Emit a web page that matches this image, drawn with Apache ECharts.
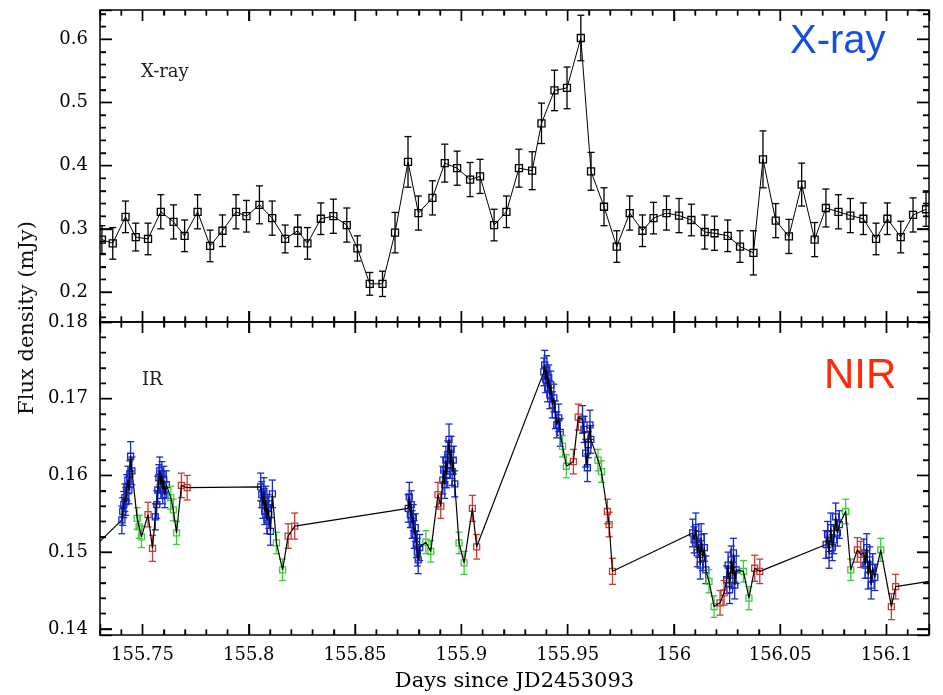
<!DOCTYPE html>
<html>
<head>
<meta charset="utf-8">
<script src="https://cdn.jsdelivr.net/npm/echarts@6/dist/echarts.min.js"></script>
<style>
    html, body { margin: 0; padding: 0; background: #fff; }
    #main { width: 943px; height: 695px; }
</style>
</head>
<body>
<div id="main"></div>
<script>
// X-ray light curve (days since JD2453093, mJy, 1-sigma)
var xrayDays = [155.7309, 155.7360, 155.7420, 155.7468, 155.7526, 155.7586, 155.7646, 155.7698, 155.7759, 155.7818,
    155.7876, 155.7940, 155.7989, 155.8050, 155.8110, 155.8171, 155.8230, 155.8276, 155.8339, 155.8398,
    155.8461, 155.8511, 155.8569, 155.8629, 155.8688, 155.8749, 155.8798, 155.8864, 155.8922, 155.8980,
    155.9041, 155.9088, 155.9154, 155.9212, 155.9271, 155.9333, 155.9377, 155.9438, 155.9497, 155.9562,
    155.9610, 155.9671, 155.9731, 155.9792, 155.9852, 155.9904, 155.9965, 156.0024, 156.0082, 156.0145,
    156.0191, 156.0253, 156.0311, 156.0374, 156.0419, 156.0479, 156.0541, 156.0601, 156.0662, 156.0715,
    156.0774, 156.0830, 156.0891, 156.0951, 156.1004, 156.1067, 156.1125, 156.1186];
var xrayFlux = [0.283, 0.277, 0.319, 0.287, 0.284, 0.327, 0.311, 0.289, 0.327, 0.273,
    0.297, 0.327, 0.320, 0.338, 0.317, 0.284, 0.297, 0.277, 0.316, 0.320,
    0.306, 0.269, 0.213, 0.213, 0.294, 0.406, 0.325, 0.349, 0.404, 0.396,
    0.378, 0.383, 0.306, 0.327, 0.396, 0.392, 0.467, 0.519, 0.523, 0.602,
    0.391, 0.335, 0.272, 0.325, 0.297, 0.317, 0.325, 0.321, 0.314, 0.295,
    0.293, 0.289, 0.272, 0.262, 0.410, 0.313, 0.288, 0.370, 0.283, 0.333,
    0.327, 0.321, 0.316, 0.284, 0.316, 0.287, 0.322, 0.331];
var xrayErr = [0.022, 0.025, 0.025, 0.022, 0.025, 0.027, 0.027, 0.025, 0.027, 0.025,
    0.025, 0.027, 0.025, 0.030, 0.027, 0.022, 0.025, 0.025, 0.025, 0.027,
    0.027, 0.020, 0.018, 0.020, 0.032, 0.040, 0.027, 0.027, 0.030, 0.027,
    0.027, 0.027, 0.025, 0.025, 0.030, 0.030, 0.032, 0.032, 0.033, 0.036,
    0.030, 0.030, 0.025, 0.027, 0.025, 0.025, 0.027, 0.027, 0.025, 0.027,
    0.027, 0.025, 0.025, 0.035, 0.045, 0.027, 0.027, 0.034, 0.027, 0.030,
    0.027, 0.027, 0.025, 0.025, 0.025, 0.025, 0.027, 0.027];

// NIR, blue points
var blueDays = [155.7403, 155.7407, 155.7412, 155.7417, 155.7421, 155.7426, 155.7431, 155.7436, 155.7440, 155.7444, 155.7450,
    155.7560, 155.7567, 155.7572, 155.7577, 155.7581, 155.7586, 155.7591, 155.7595, 155.7600, 155.7605, 155.7612,
    155.8056, 155.8061, 155.8066, 155.8071, 155.8075, 155.8080, 155.8085, 155.8089, 155.8094, 155.8102, 155.8111,
    155.8750, 155.8755, 155.8760, 155.8764, 155.8769, 155.8774, 155.8778, 155.8783, 155.8788, 155.8793, 155.8797, 155.8804,
    155.8913, 155.8917, 155.8922, 155.8927, 155.8931, 155.8936, 155.8942, 155.8948, 155.8952, 155.8957, 155.8962, 155.8969,
    155.9388, 155.9392, 155.9397, 155.9402, 155.9406, 155.9411, 155.9416, 155.9421, 155.9428, 155.9435, 155.9442, 155.9449, 155.9458, 155.9465,
    155.9570, 155.9577, 155.9585, 155.9593, 155.9597, 155.9605, 155.9609,
    156.0088, 156.0095, 156.0103, 156.0110, 156.0117, 156.0124, 156.0128, 156.0135, 156.0143, 156.0150,
    156.0248, 156.0255, 156.0262, 156.0270, 156.0277, 156.0280, 156.0286, 156.0293,
    156.0716, 156.0723, 156.0730, 156.0738, 156.0745, 156.0752, 156.0761, 156.0769, 156.0778,
    156.0893, 156.0900, 156.0907, 156.0914, 156.0921, 156.0928, 156.0935, 156.0945];
var blueFlux = [0.1542, 0.1553, 0.1562, 0.1571, 0.1566, 0.1584, 0.1594, 0.1581, 0.1602, 0.1625, 0.1606,
    0.1546, 0.1562, 0.1581, 0.1597, 0.1606, 0.1588, 0.1601, 0.1581, 0.1594, 0.1575, 0.1588,
    0.1585, 0.1575, 0.1562, 0.1579, 0.1553, 0.1568, 0.1542, 0.1558, 0.1549, 0.1527, 0.1576,
    0.1557, 0.1572, 0.1549, 0.1562, 0.1536, 0.1545, 0.1523, 0.1532, 0.1510, 0.1500, 0.1490, 0.1506,
    0.1594, 0.1607, 0.1588, 0.1620, 0.1601, 0.1627, 0.1647, 0.1614, 0.1634, 0.1605, 0.1620, 0.1589,
    0.1735, 0.1744, 0.1725, 0.1738, 0.1714, 0.1727, 0.1705, 0.1718, 0.1692, 0.1701, 0.1679, 0.1666, 0.1675, 0.1656,
    0.1673, 0.1660, 0.1629, 0.1610, 0.1640, 0.1666, 0.1647,
    0.1525, 0.1516, 0.1532, 0.1499, 0.1510, 0.1483, 0.1519, 0.1493, 0.1506, 0.1477,
    0.1464, 0.1483, 0.1451, 0.1490, 0.1470, 0.1499, 0.1457, 0.1477,
    0.1510, 0.1523, 0.1497, 0.1532, 0.1506, 0.1516, 0.1546, 0.1525, 0.1536,
    0.1499, 0.1483, 0.1506, 0.1470, 0.1490, 0.1457, 0.1480, 0.1467];
var blueErr = [0.0018, 0.0018, 0.0017, 0.0018, 0.0018, 0.0017, 0.0018, 0.0018, 0.0017, 0.0019, 0.0018,
    0.0017, 0.0018, 0.0018, 0.0017, 0.0018, 0.0018, 0.0017, 0.0018, 0.0018, 0.0017, 0.0018,
    0.0018, 0.0017, 0.0018, 0.0018, 0.0017, 0.0018, 0.0018, 0.0017, 0.0018, 0.0018, 0.0018,
    0.0018, 0.0019, 0.0017, 0.0018, 0.0018, 0.0017, 0.0018, 0.0018, 0.0017, 0.0018, 0.0018, 0.0017,
    0.0018, 0.0017, 0.0018, 0.0018, 0.0017, 0.0018, 0.0020, 0.0018, 0.0017, 0.0018, 0.0018, 0.0017,
    0.0018, 0.0019, 0.0017, 0.0018, 0.0018, 0.0017, 0.0018, 0.0018, 0.0017, 0.0018, 0.0018, 0.0017, 0.0018, 0.0018,
    0.0018, 0.0017, 0.0018, 0.0018, 0.0017, 0.0019, 0.0018,
    0.0018, 0.0017, 0.0019, 0.0018, 0.0017, 0.0018, 0.0018, 0.0017, 0.0018, 0.0018,
    0.0018, 0.0017, 0.0018, 0.0018, 0.0017, 0.0019, 0.0018, 0.0018,
    0.0018, 0.0017, 0.0018, 0.0019, 0.0017, 0.0018, 0.0018, 0.0017, 0.0018,
    0.0018, 0.0017, 0.0018, 0.0018, 0.0017, 0.0018, 0.0018, 0.0017];

// NIR, green points
var greenDays = [155.7475, 155.7484, 155.7495, 155.7633, 155.7645, 155.7660, 155.8130, 155.8159,
    155.8833, 155.8856, 155.8989, 155.9013, 155.9476, 155.9494, 155.9643, 155.9659,
    156.0165, 156.0189, 156.0327, 156.0353, 156.0808, 156.0832, 156.0973];
var greenFlux = [0.1544, 0.1533, 0.1520, 0.1571, 0.1555, 0.1525, 0.1512, 0.1477,
    0.1513, 0.1501, 0.1512, 0.1486, 0.1638, 0.1612, 0.1620, 0.1605,
    0.1462, 0.1429, 0.1475, 0.1440, 0.1553, 0.1477, 0.1503];
var greenErr = [0.0014, 0.0015, 0.0014, 0.0015, 0.0014, 0.0015, 0.0014, 0.0014,
    0.0015, 0.0014, 0.0014, 0.0015, 0.0014, 0.0015, 0.0014, 0.0014,
    0.0015, 0.0014, 0.0014, 0.0015, 0.0016, 0.0014, 0.0015];

// NIR, red points
var redDays = [155.7526, 155.7547, 155.7683, 155.7710, 155.8185, 155.8216, 155.8890, 155.8903,
    155.9052, 155.9072, 155.9527, 155.9550, 155.9687, 155.9695, 155.9711,
    156.0217, 156.0236, 156.0380, 156.0404, 156.0863, 156.0879, 156.1023, 156.1043];
var redFlux = [0.1549, 0.1505, 0.1587, 0.1584, 0.1521, 0.1534, 0.1575, 0.1560,
    0.1557, 0.1507, 0.1618, 0.1676, 0.1553, 0.1536, 0.1475,
    0.1434, 0.1447, 0.1479, 0.1475, 0.1503, 0.1497, 0.1429, 0.1455];
var redErr = [0.0016, 0.0017, 0.0016, 0.0016, 0.0016, 0.0017, 0.0016, 0.0016,
    0.0017, 0.0016, 0.0016, 0.0017, 0.0016, 0.0016, 0.0017,
    0.0016, 0.0016, 0.0017, 0.0016, 0.0016, 0.0017, 0.0017, 0.0016];

// the NIR curve runs on past both edges of the frame
var irEdgeDays = [155.7300, 156.1200];
var irEdgeFlux = [0.1514, 0.1462];

// axis ranges and labelled ticks
var dayRange = [155.73, 156.12];
var xrayRange = [0.1526, 0.6463];
var irRange = [0.1392, 0.18];
var dayTicks = [155.75, 155.8, 155.85, 155.9, 155.95, 156, 156.05, 156.1];
var xrayTicks = [0.2, 0.3, 0.4, 0.5, 0.6];
var irTicks = [0.14, 0.15, 0.16, 0.17, 0.18];

var chart = echarts.init(document.getElementById('main'), null, {renderer: 'canvas'});

var SERIF = 'DejaVu Serif';
var GRID_W = 829, TOP_H = 312, LOW_H = 313;

function pack(days, flux, err){
    var out = [];
    for (var i = 0; i < days.length; i++) {
        out.push(err ? [days[i], flux[i], err[i]] : [days[i], flux[i]]);
    }
    return out;
}

// minor tick positions inside a range, skipping the labelled ones
function minorSteps(range, step, majors){
    var out = [];
    var k = Math.ceil(range[0] / step - 1e-6);
    for (; k * step <= range[1] + 1e-9; k++) {
        var v = +(k * step).toFixed(6);
        var isMajor = majors.some(function(m){ return Math.abs(m - v) < step / 10; });
        if (!isMajor && v >= range[0] && v <= range[1]) out.push(v);
    }
    return out;
}

// error bar with caps plus an open square
function errorBarItem(color, cap, half){
    return function(params, api){
        var d = api.value(0), f = api.value(1), e = api.value(2);
        var p = api.coord([d, f]);
        var top = api.coord([d, f + e])[1];
        var bot = api.coord([d, f - e])[1];
        var st = function(){ return {stroke: color, lineWidth: 1.3, fill: 'none'}; };
        return {
            type: 'group',
            children: [
                {type: 'line', shape: {x1: p[0], y1: top, x2: p[0], y2: bot}, style: st()},
                {type: 'line', shape: {x1: p[0] - cap, y1: top, x2: p[0] + cap, y2: top}, style: st()},
                {type: 'line', shape: {x1: p[0] - cap, y1: bot, x2: p[0] + cap, y2: bot}, style: st()},
                {type: 'rect', shape: {x: p[0] - half, y: p[1] - half, width: half * 2, height: half * 2}, style: st()}
            ]
        };
    };
}

function tickFmt(step){
    return function(v){
        var k = Math.round(v / step);
        return Math.abs(v - k * step) < step * 1e-4 ? String(+(k * step).toFixed(4)) : '';
    };
}

function xAx(grid, pos, label){
    return {
        type: 'value', gridIndex: grid, position: pos,
        min: dayRange[0], max: dayRange[1], splitNumber: 8,
        axisLine: {show: true, onZero: false, lineStyle: {color: '#000', width: 1.5}},
        axisTick: {show: true, inside: true, length: 11, lineStyle: {color: '#000', width: 1.4}},
        minorTick: {show: true, splitNumber: 5, length: 5.5, lineStyle: {color: '#000', width: 1.4}},
        splitLine: {show: false},
        axisLabel: {show: label, formatter: tickFmt(0.05), color: '#000', fontFamily: SERIF, fontSize: 18, margin: 11},
        name: label ? 'Days since JD2453093' : '',
        nameLocation: 'middle', nameGap: 36,
        nameTextStyle: {color: '#000', fontFamily: SERIF, fontSize: 21}
    };
}

function yAx(grid, pos, range, step, label){
    return {
        type: 'value', gridIndex: grid, position: pos,
        min: range[0], max: range[1], splitNumber: 5,
        axisLine: {show: true, onZero: false, lineStyle: {color: '#000', width: 1.5}},
        axisTick: {show: true, inside: true, length: 12, lineStyle: {color: '#000', width: 1.4}},
        minorTick: {show: true, splitNumber: 5, length: 6, lineStyle: {color: '#000', width: 1.4}},
        splitLine: {show: false},
        axisLabel: {show: label, formatter: tickFmt(step), color: '#000', fontFamily: SERIF, fontSize: 18, margin: 12}
    };
}

var irLine = pack(blueDays, blueFlux).concat(pack(greenDays, greenFlux), pack(redDays, redFlux), pack(irEdgeDays, irEdgeFlux));
irLine.sort(function(a, b){ return a[0] - b[0]; });

var labels = [
    {type: 'text', x: 28, y: 318, rotation: Math.PI / 2,
        style: {text: 'Flux density (mJy)', font: '21px "DejaVu Serif"', fill: '#111', align: 'center', verticalAlign: 'middle'}},
    {type: 'text', x: 141, y: 72,
        style: {text: 'X-ray', font: '18px "DejaVu Serif"', fill: '#222', align: 'left', verticalAlign: 'middle'}},
    {type: 'text', x: 142, y: 380,
        style: {text: 'IR', font: '18px "DejaVu Serif"', fill: '#222', align: 'left', verticalAlign: 'middle'}},
    {type: 'text', x: 790, y: 42,
        style: {text: 'X-ray', font: '40px "Liberation Sans"', fill: '#1450dc', align: 'left', verticalAlign: 'middle'}},
    {type: 'text', x: 824, y: 376,
        style: {text: 'NIR', font: '42px "Liberation Sans"', fill: '#ff2a0a', align: 'left', verticalAlign: 'middle'}}
];

var option = {
    backgroundColor: '#fff',
    animation: false,
    grid: [
        {left: 100, top: 10, width: GRID_W, height: TOP_H},
        {left: 100, top: 10 + TOP_H, width: GRID_W, height: LOW_H}
    ],
    xAxis: [
        xAx(0, 'bottom', false),
        xAx(0, 'top', false),
        xAx(1, 'bottom', true),
        xAx(1, 'top', false)
    ],
    yAxis: [
        yAx(0, 'left', xrayRange, 0.1, true),
        yAx(0, 'right', xrayRange, 0.1, false),
        yAx(1, 'left', irRange, 0.01, true),
        yAx(1, 'right', irRange, 0.01, false)
    ],
    graphic: labels,
    series: [
        {
            type: 'line', xAxisIndex: 0, yAxisIndex: 0,
            data: pack(xrayDays, xrayFlux), symbol: 'none',
            lineStyle: {color: '#000', width: 1}, z: 3
        },
        {
            type: 'custom', xAxisIndex: 0, yAxisIndex: 0, clip: true,
            renderItem: errorBarItem('#000', 3.5, 3.5),
            encode: {x: 0, y: 1},
            data: pack(xrayDays, xrayFlux, xrayErr), z: 2
        },
        {
            type: 'custom', xAxisIndex: 2, yAxisIndex: 2, clip: true,
            renderItem: errorBarItem('#1528c8', 3.5, 3),
            encode: {x: 0, y: 1},
            data: pack(blueDays, blueFlux, blueErr), z: 2
        },
        {
            type: 'custom', xAxisIndex: 2, yAxisIndex: 2, clip: true,
            renderItem: errorBarItem('#3ccc3c', 3.5, 3),
            encode: {x: 0, y: 1},
            data: pack(greenDays, greenFlux, greenErr), z: 2
        },
        {
            type: 'custom', xAxisIndex: 2, yAxisIndex: 2, clip: true,
            renderItem: errorBarItem('#c83a32', 3.5, 3),
            encode: {x: 0, y: 1},
            data: pack(redDays, redFlux, redErr), z: 2
        },
        {
            type: 'line', xAxisIndex: 2, yAxisIndex: 2,
            data: irLine, symbol: 'none',
            lineStyle: {color: '#000', width: 1.2}, z: 3
        }
    ]
};

chart.setOption(option);

// inward frame ticks on all four sides, placed through the grids' own scales
function frameTicks(grid, yTicks, yRange, yStep){
    var out = [];
    var seg = function(x1, y1, x2, y2){
        out.push({type: 'line', silent: true, z: 100,
            shape: {x1: x1, y1: y1, x2: x2, y2: y2}, style: {stroke: '#000', lineWidth: 1.4}});
    };
    var dayAll = dayTicks.map(function(v){ return [v, 11]; })
        .concat(minorSteps(dayRange, 0.01, dayTicks).map(function(v){ return [v, 5.5]; }));
    dayAll.forEach(function(t){
        var a = chart.convertToPixel({gridIndex: grid}, [t[0], yRange[0]]);
        var b = chart.convertToPixel({gridIndex: grid}, [t[0], yRange[1]]);
        seg(a[0], a[1], a[0], a[1] - t[1]);
        seg(b[0], b[1], b[0], b[1] + t[1]);
    });
    var fluxAll = yTicks.map(function(v){ return [v, 12]; })
        .concat(minorSteps(yRange, yStep, yTicks).map(function(v){ return [v, 6]; }));
    fluxAll.forEach(function(t){
        var a = chart.convertToPixel({gridIndex: grid}, [dayRange[0], t[0]]);
        var b = chart.convertToPixel({gridIndex: grid}, [dayRange[1], t[0]]);
        seg(a[0], a[1], a[0] + t[1], a[1]);
        seg(b[0], b[1], b[0] - t[1], b[1]);
    });
    return out;
}

chart.setOption({
    graphic: labels.concat(frameTicks(0, xrayTicks, xrayRange, 0.02), frameTicks(1, irTicks, irRange, 0.002))
});
</script>
</body>
</html>
